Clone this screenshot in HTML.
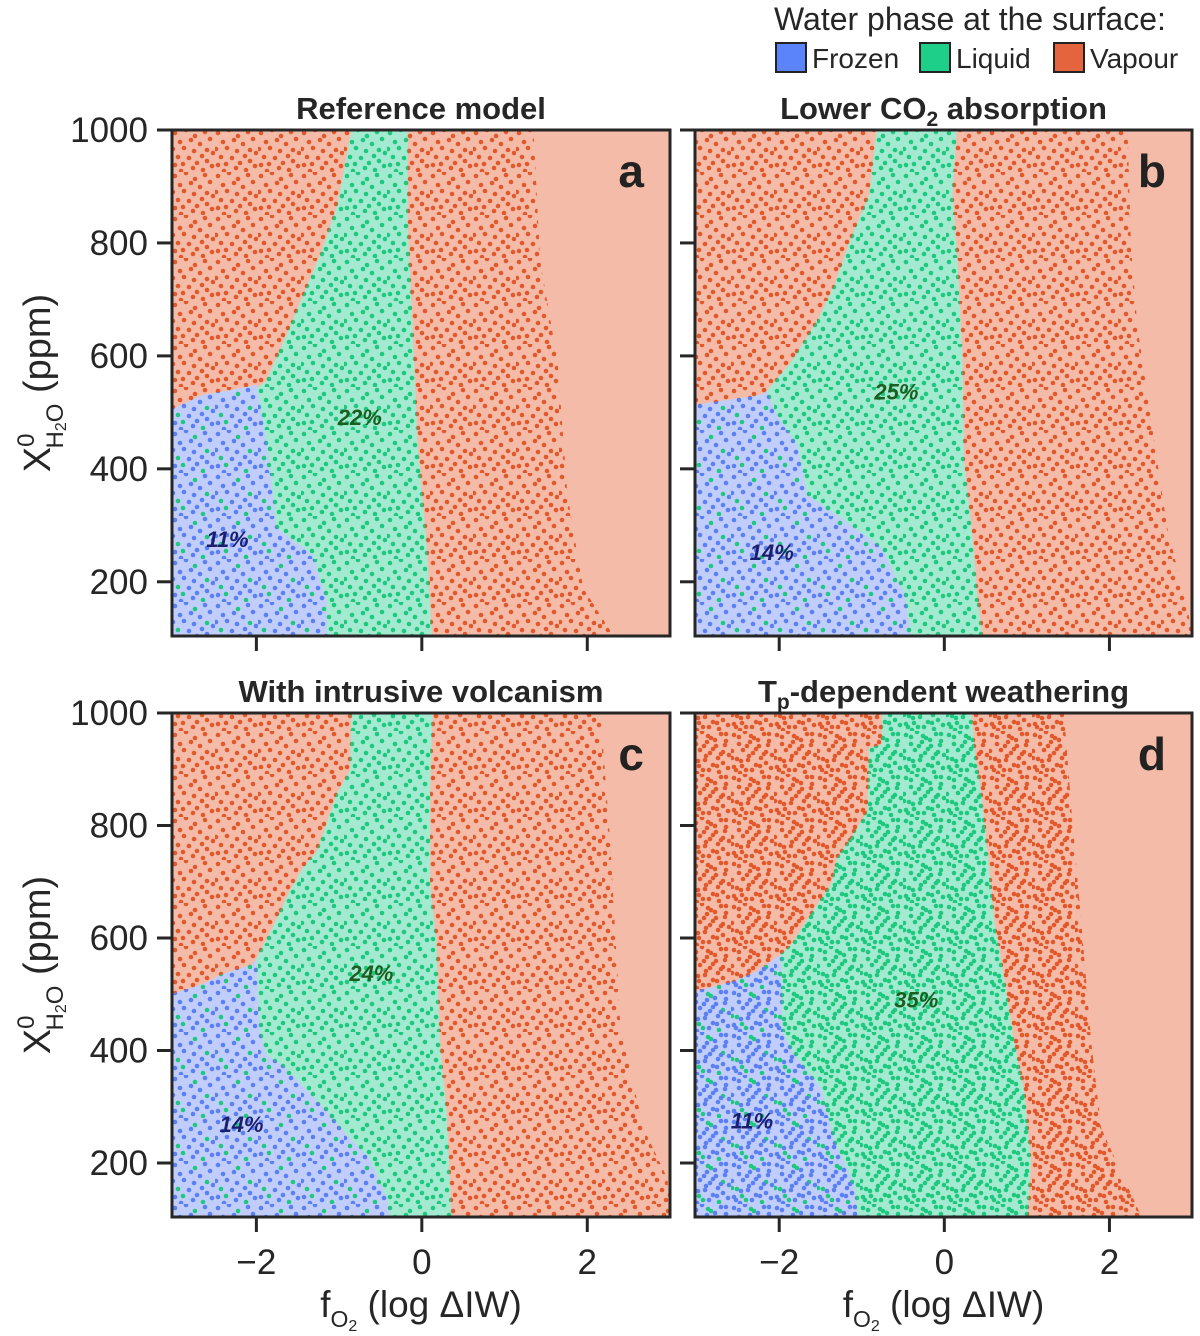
<!DOCTYPE html>
<html><head><meta charset="utf-8"><style>
html,body{margin:0;padding:0;background:#fff;}
svg{display:block;font-family:"Liberation Sans",sans-serif;}
</style></head><body>
<svg id="chart" width="1200" height="1336" viewBox="0 0 1200 1336" xmlns="http://www.w3.org/2000/svg">
<defs id="defs"></defs>
<g id="root"></g>
</svg>
<script>
// ---- data (data coords: x = log ΔIW, y = ppm) ----
const panelIds = ['a','b','c','d'];
const panelTitles = ['Reference model','Lower CO₂ absorption','With intrusive volcanism','Tp-dependent weathering'];
const xTicks = [-2,0,2];
const xTickLabels = ['−2','0','2'];
const yTicks = [200,400,600,800,1000];
const yTickLabels = ['200','400','600','800','1000'];
const liquidPct = ['22%','25%','24%','35%'];
const frozenPct = ['11%','14%','14%','11%'];
const liquidPctPos = [[-0.75,490],[-0.58,535],[-0.61,536],[-0.34,489]];
const frozenPctPos = [[-2.35,274],[-2.09,251],[-2.18,268],[-2.33,274]];
const liquidLeftA = [[-0.85,1000],[-1.02,868],[-1.21,786],[-1.60,650],[-1.88,556],[-1.99,543],[-1.84,414],[-1.76,296],[-1.32,248],[-1.15,166],[-1.15,104]];
const liquidRightA = [[-0.17,1000],[-0.17,827],[-0.11,650],[-0.05,442],[0.06,265],[0.12,104]];
const frozenTopA = [[-3.03,505],[-2.65,531],[-2.36,538],[-1.99,549]];
const dotEdgeA = [[1.35,1000],[1.43,768],[1.64,591],[1.76,354],[1.95,189],[2.32,104]];
const liquidLeftB = [[-0.82,1000],[-0.91,885],[-1.13,809],[-1.33,726],[-1.54,662],[-1.85,591],[-2.15,538],[-2.06,503],[-1.78,442],[-1.66,354],[-1.25,313],[-0.76,260],[-0.48,177],[-0.40,104]];
const liquidRightB = [[0.15,1000],[0.10,885],[0.16,768],[0.22,591],[0.24,414],[0.33,296],[0.40,177],[0.46,104]];
const frozenTopB = [[-3.03,513],[-2.22,531],[-2.15,538]];
const dotEdgeB = [[2.22,1000],[2.26,796],[2.34,650],[2.55,442],[2.70,296],[2.95,149],[3.0,104]];
const liquidLeftC = [[-0.85,1000],[-0.87,897],[-1.03,856],[-1.27,754],[-1.44,724],[-1.60,683],[-1.81,617],[-2.00,564],[-1.96,434],[-1.88,393],[-1.64,368],[-1.15,292],[-0.87,244],[-0.63,208],[-0.42,137],[-0.39,104]];
const liquidRightC = [[0.13,1000],[0.10,861],[0.10,696],[0.18,589],[0.22,411],[0.30,292],[0.36,104]];
const frozenTopC = [[-3.03,500],[-2.65,518],[-2.41,536],[-2.05,553],[-2.00,564]];
const dotEdgeC = [[2.16,1000],[2.28,767],[2.40,440],[2.68,262],[2.97,172],[3.0,104]];
const liquidLeftD = [[-0.75,1000],[-0.76,944],[-0.91,938],[-0.93,826],[-1.13,778],[-1.30,742],[-1.37,696],[-1.70,624],[-1.85,589],[-1.98,571],[-1.96,434],[-1.82,393],[-1.49,333],[-1.33,238],[-1.09,162],[-1.05,104]];
const liquidRightD = [[0.33,1000],[0.37,932],[0.45,855],[0.53,744],[0.61,625],[0.73,525],[0.85,413],[0.97,325],[1.05,203],[1.01,104]];
const frozenTopD = [[-3.03,505],[-2.55,523],[-2.27,541],[-1.98,571]];
const dotEdgeD = [[1.45,1000],[1.54,826],[1.66,625],[1.78,413],[1.90,262],[2.39,104]];

const liquidLeft = [liquidLeftA,liquidLeftB,liquidLeftC,liquidLeftD];
const liquidRight = [liquidRightA,liquidRightB,liquidRightC,liquidRightD];
const frozenTop = [frozenTopA,frozenTopB,frozenTopC,frozenTopD];
const dotEdge = [dotEdgeA,dotEdgeB,dotEdgeC,dotEdgeD];

// ---- layout ----
const NS='http://www.w3.org/2000/svg';
const XMIN=-3.02, XMAX=3.0, YMIN=104, YMAX=1000;
const boxes=[{l:172,t:130,w:498,h:506},{l:695,t:130,w:497,h:506},{l:172,t:713,w:498,h:504},{l:695,t:713,w:497,h:504}];
const COL={vapBg:'#f4bca8',vapDot:'#e2582a',liqBg:'#a3ead0',liqDot:'#1dc87f',froBg:'#c1cdfb',froDot:'#5a80f4'};
const tile=[[3,4],[14,1],[23,7],[33,3],[8,13],[19,11],[28,15],[35,21],[1,20],[12,19],[22,22],[30,27],[6,28],[17,29],[25,34],[35,32],[3,36],[11,35],[21,39],[38,10],[40,37],[41,24],[31,41],[9,42]];
const tileExtra=[[8,6],[27,9],[16,15],[1,27],[18,25],[29,35],[10,30],[37,14],[15,39],[25,18],[38,3],[5,39],[33,23],[20,5]];

function el(tag,attrs,parent){const e=document.createElementNS(NS,tag);for(const k in attrs)e.setAttribute(k,attrs[k]);if(parent)parent.appendChild(e);return e;}
const defs=document.getElementById('defs'), root=document.getElementById('root');

function makePattern(id,bg,dot,dense,mixCol){
  const p=el('pattern',{id:id,width:43,height:43,patternUnits:'userSpaceOnUse'},defs);
  if(bg) el('rect',{x:0,y:0,width:43,height:43,fill:bg},p);
  const pts=dense?tile.concat(tileExtra):tile;
  pts.forEach((q,i)=>{el('circle',{cx:q[0],cy:q[1],r:2.3,fill:(mixCol&&i%5===2)?mixCol:dot},p);});
}
['n','d'].forEach(k=>{
  const dense=k==='d';
  makePattern('vap'+k,null,COL.vapDot,dense,null);
  makePattern('liq'+k,COL.liqBg,COL.liqDot,dense,null);
  makePattern('fro'+k,COL.froBg,COL.froDot,dense,COL.liqDot);
});

boxes.forEach((b,i)=>{
  const sx=x=>b.l+(x-XMIN)/(XMAX-XMIN)*b.w;
  const sy=y=>b.t+(YMAX-y)/(YMAX-YMIN)*b.h;
  const pts=a=>a.map(p=>sx(p[0]).toFixed(1)+','+sy(p[1]).toFixed(1));
  const g=el('g',{},root);
  
  
  const cp=el('clipPath',{id:'clip'+i},defs);
  el('rect',{x:b.l,y:b.t,width:b.w,height:b.h},cp);
  const pg=el('g',{'clip-path':'url(#clip'+i+')'},g);
  const k=i===3?'d':'n';
  const bg=el('rect',{x:b.l,y:b.t,width:b.w,height:b.h,fill:COL.vapBg},pg);
  
  
  const vd=[[XMIN-0.1,YMAX+20]].concat(dotEdge[i]).concat([[dotEdge[i][dotEdge[i].length-1][0],YMIN-20],[XMIN-0.1,YMIN-20]]);
  const vp=el('polygon',{points:pts(vd).join(' '),fill:'url(#vap'+k+')'},pg);
  
  
  const ll=liquidLeft[i], ft=frozenTop[i];
  const last=ft[ft.length-1];
  let j=ll.findIndex(p=>p[0]===last[0]&&p[1]===last[1]);
  if(j<0){j=0;let best=1e9;ll.forEach((p,n)=>{const d=Math.abs(p[1]-last[1])+Math.abs(p[0]-last[0])*100;if(d<best){best=d;j=n;}});}
  const fr=[[XMIN-0.1,ft[0][1]]].concat(ft).concat(ll.slice(j+1)).concat([[ll[ll.length-1][0],YMIN-20],[XMIN-0.1,YMIN-20]]);
  const fp=el('polygon',{points:pts(fr).join(' '),fill:'url(#fro'+k+')'},pg);
  
  
  const lq=[[ll[0][0],YMAX+20]].concat(ll).concat([[ll[ll.length-1][0],YMIN-20],[liquidRight[i][liquidRight[i].length-1][0],YMIN-20]]).concat(liquidRight[i].slice().reverse()).concat([[liquidRight[i][0][0],YMAX+20]]);
  const lp=el('polygon',{points:pts(lq).join(' '),fill:'url(#liq'+k+')'},pg);
  
  
  const t1=el('text',{x:sx(liquidPctPos[i][0]),y:sy(liquidPctPos[i][1])+7,'text-anchor':'middle','font-size':22,'font-weight':'bold','font-style':'italic',fill:'#1b5e20'},g);
  t1.textContent=liquidPct[i];
  
  
  const t2=el('text',{x:sx(frozenPctPos[i][0]),y:sy(frozenPctPos[i][1])+7,'text-anchor':'middle','font-size':22,'font-weight':'bold','font-style':'italic',fill:'#1a1f6e'},g);
  t2.textContent=frozenPct[i];
  
  
  const lt=el('text',{x:b.l+b.w-26,y:b.t+57,'text-anchor':'end','font-size':46,'font-weight':'bold',fill:'#222'},g);
  lt.textContent=panelIds[i];
  
  
  el('rect',{x:b.l,y:b.t,width:b.w,height:b.h,fill:'none',stroke:'#262626','stroke-width':3},g);
  const tt=el('text',{x:b.l+b.w/2,y:b.t-11,'text-anchor':'middle','font-size':31,'font-weight':'bold',fill:'#262626'},g);
  
  
  if(i===1){tt.innerHTML='Lower CO<tspan font-size="21" dy="7">2</tspan><tspan dy="-7"> absorption</tspan>';}
  else if(i===3){tt.innerHTML='T<tspan font-size="21" dy="7">p</tspan><tspan dy="-7">-dependent weathering</tspan>';}
  else tt.textContent=panelTitles[i];
  const bottomRow=i>=2, leftCol=i%2===0;
  xTicks.forEach((v,n)=>{
    el('line',{x1:sx(v),x2:sx(v),y1:b.t+b.h,y2:b.t+b.h+15,stroke:'#262626','stroke-width':3},g);
    if(bottomRow){const tl=el('text',{x:sx(v),y:b.t+b.h+57,'text-anchor':'middle','font-size':35,fill:'#262626'},g);tl.textContent=xTickLabels[n];
      
      }
  });
  yTicks.forEach((v,n)=>{
    el('line',{x1:b.l-15,x2:b.l,y1:sy(v),y2:sy(v),stroke:'#262626','stroke-width':3},g);
    if(leftCol){const tl=el('text',{x:b.l-24,y:sy(v)+12,'text-anchor':'end','font-size':35,fill:'#262626'},g);tl.textContent=yTickLabels[n];
      
      }
  });
  if(bottomRow){
    const xt=el('text',{x:b.l+b.w/2,y:1317,'text-anchor':'middle','font-size':37,fill:'#262626'},g);
    xt.innerHTML='f<tspan font-size="23" dy="10">O</tspan><tspan font-size="16" dy="4">2</tspan><tspan dy="-14"> (log ΔIW)</tspan>';
    
    
  }
  if(leftCol){
    const cy=b.t+b.h/2;
    const yt=el('text',{x:0,y:0,transform:'translate(50,'+cy+') rotate(-90)','text-anchor':'middle','font-size':38,fill:'#262626'},g);
    yt.innerHTML='X<tspan font-size="24" dy="-16">0</tspan><tspan font-size="24" dx="-15" dy="29">H</tspan><tspan font-size="16" dy="3">2</tspan><tspan font-size="24" dy="-3">O</tspan><tspan dy="-13"> (ppm)</tspan>';
    
    
  }
});

const lg=el('g',{},root);


const lh=el('text',{x:774,y:30,'font-size':32,fill:'#262626'},lg);
lh.textContent='Water phase at the surface:';
const legendNames=['Frozen','Liquid','Vapour'];
const legendCols=['#5b84fb','#1ecf8a','#e4643d'];
const legendX=[776,920,1054];
legendNames.forEach((n,i)=>{
  const r=el('rect',{x:legendX[i],y:43,width:30,height:29,fill:legendCols[i],stroke:'#222','stroke-width':2},lg);
  
  
  const t=el('text',{x:legendX[i]+36,y:68,'font-size':28,fill:'#262626'},lg);
  t.textContent=n;
  
  
});
</script>
</body></html>
